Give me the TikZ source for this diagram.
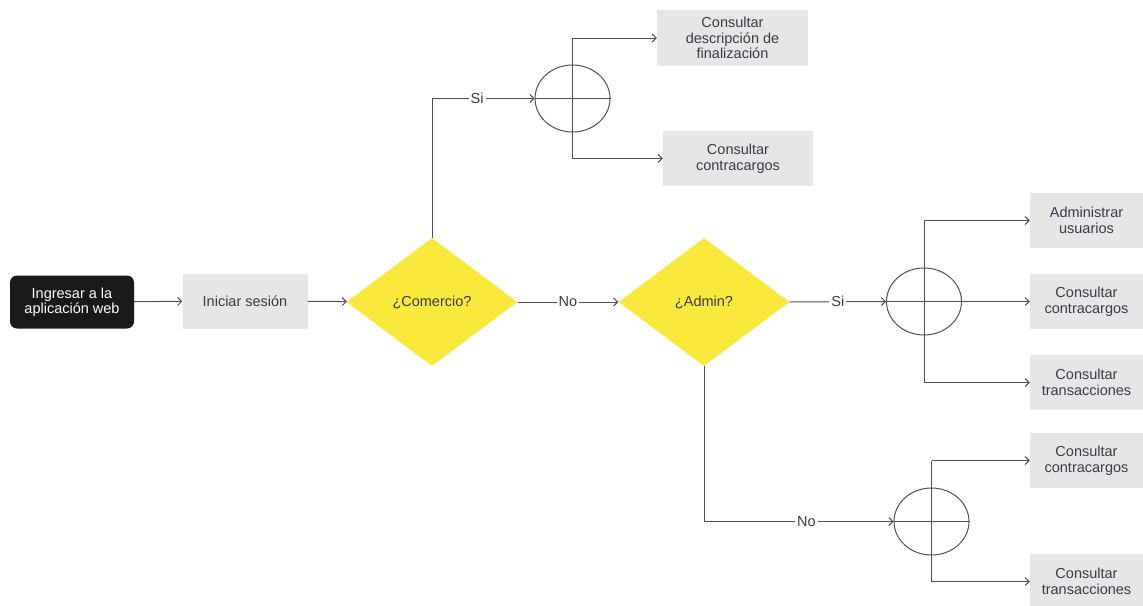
\documentclass[tikz,border=0pt]{standalone}
\usepackage{fontspec}
\setmainfont{Liberation Sans}
\usetikzlibrary{shapes.geometric,arrows.meta}
\definecolor{boxgray}{HTML}{E6E6E6}
\definecolor{dyellow}{HTML}{F9E93C}
\definecolor{txt}{HTML}{3A3A4A}
\definecolor{ln}{HTML}{505050}
\begin{document}
\begin{tikzpicture}[x=1pt,y=-1pt,
  every node/.style={font=\fontsize{14.5}{15.5}\selectfont, text=txt, align=center},
  gbox/.style={fill=boxgray, inner sep=0pt},
  startbox/.style={fill=black!90, text=white, rounded corners=7pt, inner sep=0pt},
  dec/.style={diamond, fill=dyellow, inner sep=0pt, minimum width=171pt, minimum height=128pt},
  joint/.style={ellipse, draw=ln, line width=1pt, inner sep=0pt, minimum width=75pt, minimum height=67pt},
  ln/.style={draw=ln, line width=1pt},
  arr/.style={ln, -{Straight Barb[length=4pt,width=8pt]}},
  lbl/.style={fill=white, inner sep=2pt}
]
\useasboundingbox (0,0) rectangle (1143,605);
% nodes
\node[startbox, minimum width=124pt, minimum height=53pt] (s) at (72,302) {Ingresar a la\\aplicación web};
\node[gbox, minimum width=125pt, minimum height=55pt] (ini) at (245,301) {Iniciar sesión};
\node[dec] (com) at (432,302) {¿Comercio?};
\node[dec] (adm) at (704,302) {¿Admin?};
\node[joint] (c1) at (572.5,98.5) {};
\node[joint] (c2) at (924,301.5) {};
\node[joint] (c3) at (931.5,521.5) {};
\node[gbox, minimum width=151pt, minimum height=56pt] (d1) at (732.5,38) {Consultar\\descripción de\\finalización};
\node[gbox, minimum width=150pt, minimum height=55pt] (d2) at (738,158.5) {Consultar\\contracargos};
\node[gbox, minimum width=113pt, minimum height=55pt] (a1) at (1086.5,220.5) {Administrar\\usuarios};
\node[gbox, minimum width=113pt, minimum height=55pt] (a2) at (1086.5,301.5) {Consultar\\contracargos};
\node[gbox, minimum width=113pt, minimum height=55pt] (a3) at (1086.5,382.5) {Consultar\\transacciones};
\node[gbox, minimum width=113pt, minimum height=55pt] (b1) at (1086.5,460.5) {Consultar\\contracargos};
\node[gbox, minimum width=113pt, minimum height=55pt] (b2) at (1086.5,581.5) {Consultar\\transacciones};
% main flow
\draw[arr] (s) -- (ini);
\draw[arr] (ini) -- (com);
\draw[arr] (com) -- node[lbl]{No} (adm);
\draw[arr] (com.north) |- node[lbl,pos=0.72]{Si} (c1.west);
\draw[arr] (adm.east) -- node[lbl]{Si} (c2.west);
\draw[arr] (adm.south) |- node[lbl,pos=0.77]{No} (c3.west);
% joint 1
\coordinate (t1) at (c1.center |- d1.west);
\coordinate (u1) at (c1.center |- d2.west);
\draw[ln] (c1.west) -- (c1.east);
\draw[ln] (t1) -- (u1);
\draw[arr] (t1) -- (d1.west);
\draw[arr] (u1) -- (d2.west);
% joint 2
\coordinate (t2) at (c2.center |- a1.west);
\coordinate (u2) at (c2.center |- a3.west);
\draw[ln] (t2) -- (u2);
\draw[arr] (t2) -- (a1.west);
\draw[arr] (c2.west) -- (a2.west);
\draw[arr] (u2) -- (a3.west);
% joint 3
\coordinate (t3) at (c3.center |- b1.west);
\coordinate (u3) at (c3.center |- b2.west);
\draw[ln] (c3.west) -- (c3.east);
\draw[ln] (t3) -- (u3);
\draw[arr] (t3) -- (b1.west);
\draw[arr] (u3) -- (b2.west);
\end{tikzpicture}
\end{document}
